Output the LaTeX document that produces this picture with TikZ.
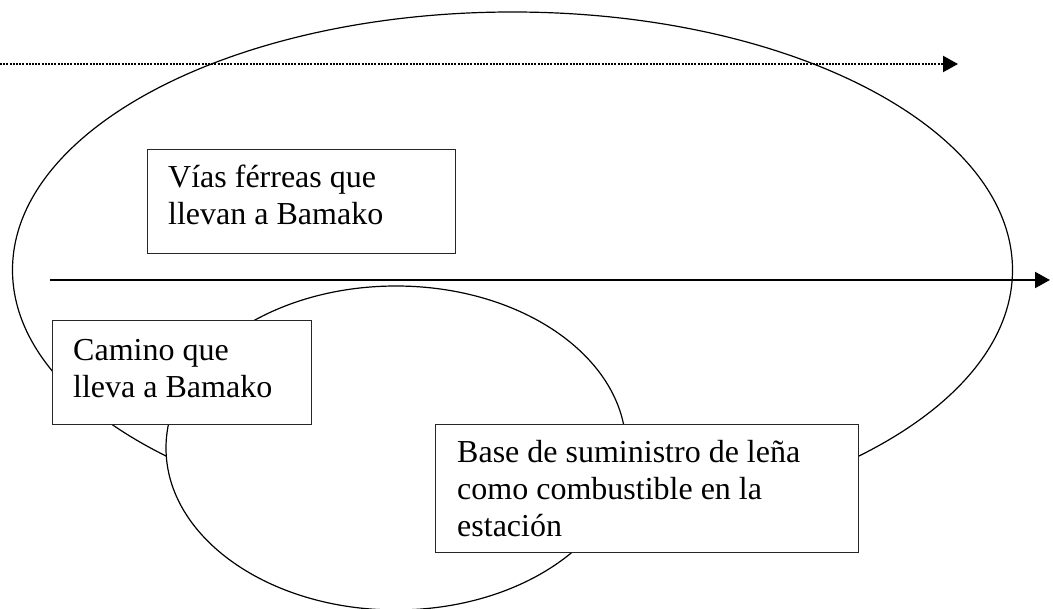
\documentclass[tikz,border=0pt]{standalone}
\usepackage{fontspec}
\setmainfont{Liberation Serif}
\usetikzlibrary{arrows.meta}
\begin{document}
\begin{tikzpicture}[x=1pt,y=-1pt,
  boxstyle/.style={draw=black!85, line width=1pt, fill=white, rectangle, inner sep=0pt, anchor=north west},
  txtstyle/.style={inner sep=0pt, anchor=north west, align=left, font=\fontsize{32}{37}\selectfont},
  ell/.style={draw=black, line width=1.2pt},
  arr/.style={-{Triangle[length=15pt,width=16pt]}}]
\useasboundingbox (0,0) rectangle (1053,609);
% ellipses
\draw[ell] (512.5,270) ellipse [x radius=500pt, y radius=258pt];
\draw[ell, fill=white] (396,448) ellipse [x radius=230pt, y radius=162pt];
% arrows
\coordinate (d1) at (0,64);
\coordinate (d2) at (958,64);
\coordinate (s1) at (50,280);
\coordinate (s2) at (1050,280);
\draw[arr, line width=2.2pt, dash pattern=on 2pt off 1.2pt] (d1) -- (d2);
\draw[arr, line width=2pt] (s1) -- (s2);
% boxes
\node[boxstyle, minimum width=308pt, minimum height=104pt] (bvias) at (147,149) {};
\node[boxstyle, minimum width=259pt, minimum height=104pt] (bcamino) at (52,320) {};
\node[boxstyle, minimum width=423pt, minimum height=128pt] (bbase) at (435,424) {};
% texts
\node[txtstyle] (tvias) at (168,161.1) {\strut V\'{\i}as f\'erreas que\\llevan a Bamako};
\node[txtstyle] (tcamino) at (73,334.1) {\strut Camino que\\lleva a Bamako};
\node[txtstyle] (tbase) at (457,436.1) {\strut Base de suministro de le\~na\\como combustible en la\\estaci\'on};
\end{tikzpicture}
\end{document}
